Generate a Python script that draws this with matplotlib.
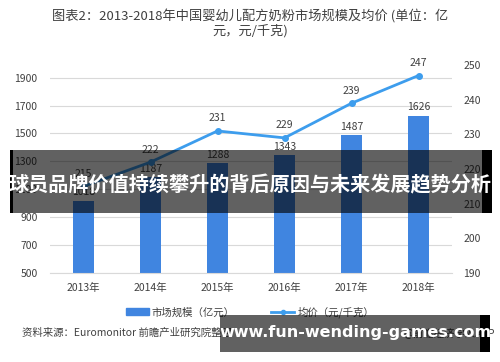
import matplotlib.pyplot as plt
from matplotlib.patches import Rectangle
from matplotlib.lines import Line2D
import numpy as np

plt.rcParams['font.family'] = ['Noto Sans CJK SC', 'DejaVu Sans']

# 数据
years = ['2013年', '2014年', '2015年', '2016年', '2017年', '2018年']
market_size = [1018, 1187, 1288, 1343, 1487, 1626]   # 亿元
avg_price = [215, 222, 231, 229, 239, 247]            # 元/千克
left_ticks = [500, 700, 900, 1100, 1300, 1500, 1700, 1900]
right_ticks = [190, 200, 210, 220, 230, 240, 250]

bar_color = '#4085e0'
line_color = '#3d9ded'
text_color = '#404040'

fig = plt.figure(figsize=(5, 3.62), dpi=100)
ax = fig.add_axes([0.1, 0.246, 0.804, 0.574])
ax2 = ax.twinx()

x = np.arange(len(years))
ax.bar(x, market_size, width=0.31, color=bar_color, zorder=2)
ax.set_ylim(500, 1990)
ax.set_yticks(left_ticks)
ax.set_xlim(-0.5, len(years) - 0.5)
ax.set_xticks(x)
ax.set_xticklabels(years)
ax.grid(axis='y', color='#d9d9d9', linewidth=0.8, zorder=0)
ax.tick_params(axis='both', length=0, labelsize=7.5, colors=text_color)
ax.tick_params(axis='y', pad=9)
ax.tick_params(axis='x', pad=7)
for s in ['top', 'right', 'left']:
    ax.spines[s].set_visible(False)
ax.spines['bottom'].set_color('#d9d9d9')
for xi, v in zip(x, market_size):
    ax.text(xi, v + 25, str(v), ha='center', va='bottom', fontsize=7.5, color=text_color)

ax2.plot(x, avg_price, color=line_color, linewidth=2, marker='o', markersize=4, zorder=3)
ax2.set_ylim(190, 250)
ax2.set_yticks(right_ticks)
ax2.tick_params(axis='y', length=0, labelsize=7.5, colors=text_color, pad=8)
for s in ['top', 'right', 'left', 'bottom']:
    ax2.spines[s].set_visible(False)
for xi, v in zip(x, avg_price):
    ax2.text(xi, v + 2.2, str(v), ha='center', va='bottom', fontsize=7.5, color=text_color)

# 标题
fig.text(0.5, 0.955, '图表2：2013-2018年中国婴幼儿配方奶粉市场规模及均价 (单位：亿',
         ha='center', va='center', fontsize=9.5, color=text_color)
fig.text(0.5, 0.915, '元，元/千克)', ha='center', va='center', fontsize=9.5, color=text_color)

# 图例
handles = [Rectangle((0, 0), 1, 1, color=bar_color),
           Line2D([0], [0], color=line_color, linewidth=2, marker='o', markersize=3)]
fig.legend(handles, ['市场规模（亿元）', '均价（元/千克）'], loc='center',
           bbox_to_anchor=(0.5, 0.138), ncol=2, frameon=False, fontsize=7.5,
           handlelength=2.2, handletextpad=0.3, columnspacing=3.5,
           labelcolor=text_color)

fig.text(0.044, 0.08, '资料来源：Euromonitor 前瞻产业研究院整理', ha='left', va='center',
         fontsize=7.5, color=text_color)
fig.text(0.99, 0.08, '@前瞻经济学人APP', ha='right', va='center', fontsize=7.5, color=text_color)

# 横幅
fig.patches.append(Rectangle((0.02, 1 - 213 / 362), 0.964, 63 / 362, transform=fig.transFigure,
                             facecolor='black', alpha=0.62, zorder=10))
fig.patches.append(Rectangle((0.02, 1 - 213 / 362), 0.006, 63 / 362, transform=fig.transFigure,
                             facecolor='black', zorder=10))
fig.patches.append(Rectangle((0.964, 1 - 213 / 362), 0.02, 63 / 362, transform=fig.transFigure,
                             facecolor='black', zorder=10))
fig.text(0.5, 1 - 185 / 362, '球员品牌价值持续攀升的背后原因与未来发展趋势分析', ha='center',
         va='center', fontsize=14.5, fontweight='bold', color='white', zorder=11)

fig.patches.append(Rectangle((0.44, 1 - 352 / 362), 0.52, 37 / 362, transform=fig.transFigure,
                             facecolor='black', alpha=0.62, zorder=10))
fig.patches.append(Rectangle((0.96, 1 - 352 / 362), 0.02, 37 / 362, transform=fig.transFigure,
                             facecolor='black', zorder=10))
fig.text(0.71, 1 - 333 / 362, 'www.fun-wending-games.com', ha='center', va='center',
         fontsize=11.5, fontweight='bold', color='white', family='DejaVu Sans', zorder=11)

fig.savefig('out.png', dpi=100)
